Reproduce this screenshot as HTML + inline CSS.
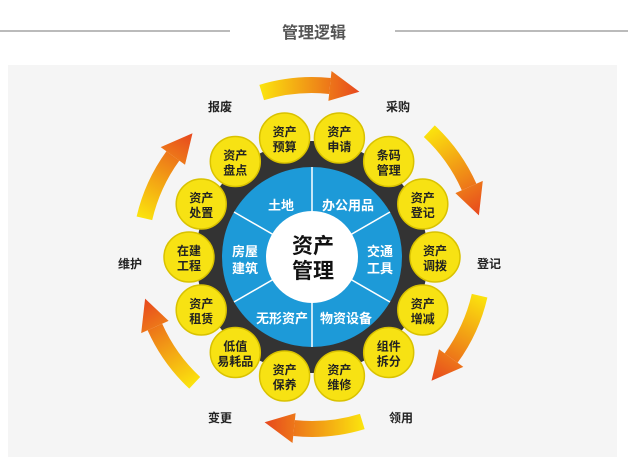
<!DOCTYPE html>
<html><head><meta charset="utf-8"><style>
body{margin:0;width:628px;height:457px;overflow:hidden;background:#fff;font-family:"Liberation Sans","Noto Sans CJK SC",sans-serif}
</style></head><body>
<svg width="628" height="457" viewBox="0 0 628 457" xmlns="http://www.w3.org/2000/svg" style="position:absolute;left:0;top:0;font-family:'Liberation Sans','Noto Sans CJK SC',sans-serif">
<defs>
<linearGradient id="g0" gradientUnits="userSpaceOnUse" x1="261.7" y1="92.5" x2="359.4" y2="91.7"><stop offset="0" stop-color="#fbe20e"/><stop offset="1" stop-color="#e7471e"/></linearGradient>
<linearGradient id="g1" gradientUnits="userSpaceOnUse" x1="429.3" y1="131.2" x2="478.9" y2="215.4"><stop offset="0" stop-color="#fbe20e"/><stop offset="1" stop-color="#e7471e"/></linearGradient>
<linearGradient id="g2" gradientUnits="userSpaceOnUse" x1="479.6" y1="295.7" x2="431.5" y2="380.7"><stop offset="0" stop-color="#fbe20e"/><stop offset="1" stop-color="#e7471e"/></linearGradient>
<linearGradient id="g3" gradientUnits="userSpaceOnUse" x1="362.3" y1="421.5" x2="264.6" y2="422.3"><stop offset="0" stop-color="#fbe20e"/><stop offset="1" stop-color="#e7471e"/></linearGradient>
<linearGradient id="g4" gradientUnits="userSpaceOnUse" x1="194.7" y1="382.8" x2="145.1" y2="298.6"><stop offset="0" stop-color="#fbe20e"/><stop offset="1" stop-color="#e7471e"/></linearGradient>
<linearGradient id="g5" gradientUnits="userSpaceOnUse" x1="144.4" y1="218.3" x2="192.5" y2="133.3"><stop offset="0" stop-color="#fbe20e"/><stop offset="1" stop-color="#e7471e"/></linearGradient>
</defs>
<line x1="0" y1="31" x2="230" y2="31" stroke="#777" stroke-width="1"/>
<line x1="395" y1="31" x2="628" y2="31" stroke="#777" stroke-width="1"/>
<text x="314" y="38" font-size="16" fill="#555" text-anchor="middle" font-weight="bold">管理逻辑</text>
<rect x="8" y="65" width="609" height="392" fill="#f5f5f5"/>

<g fill="none" stroke-width="16">
<path d="M261.7 92.5 A172 172 0 0 1 330 86" stroke="url(#g0)"/>
<path d="M429.3 131.2 A172 172 0 0 1 469.1 187" stroke="url(#g1)"/>
<path d="M479.6 295.7 A172 172 0 0 1 451.1 358.1" stroke="url(#g2)"/>
<path d="M362.3 421.5 A172 172 0 0 1 294 428.1" stroke="url(#g3)"/>
<path d="M194.7 382.8 A172 172 0 0 1 154.9 327" stroke="url(#g4)"/>
<path d="M144.4 218.3 A172 172 0 0 1 172.9 155.9" stroke="url(#g5)"/>
</g>
<polygon points="328.4,100.9 331.5,71 359.4,91.7" fill="url(#g0)"/>
<polygon points="455.4,193.1 482.8,180.9 478.9,215.4" fill="url(#g1)"/>
<polygon points="439,349.3 463.3,366.9 431.5,380.7" fill="url(#g2)"/>
<polygon points="295.6,413.1 292.5,443 264.6,422.3" fill="url(#g3)"/>
<polygon points="168.6,320.9 141.2,333.1 145.1,298.6" fill="url(#g4)"/>
<polygon points="185,164.7 160.7,147.1 192.5,133.3" fill="url(#g5)"/>

<g font-size="12" font-weight="bold" fill="#222" text-anchor="middle">
<text x="220" y="111">报废</text>
<text x="398" y="111">采购</text>
<text x="489" y="268">登记</text>
<text x="401" y="422">领用</text>
<text x="220" y="422">变更</text>
<text x="130" y="268">维护</text>
</g>

<circle cx="312" cy="257" r="116" fill="#333"/>

<g fill="#f7e213" stroke="#d9c200" stroke-width="1.5">
<circle cx="339.4" cy="138" r="25"/>
<circle cx="388.7" cy="161.5" r="25"/>
<circle cx="422.8" cy="204" r="25"/>
<circle cx="435" cy="257" r="25"/>
<circle cx="422.8" cy="310" r="25"/>
<circle cx="388.7" cy="352.5" r="25"/>
<circle cx="339.4" cy="376" r="25"/>
<circle cx="284.6" cy="376" r="25"/>
<circle cx="235.3" cy="352.5" r="25"/>
<circle cx="201.2" cy="310" r="25"/>
<circle cx="189" cy="257" r="25"/>
<circle cx="201.2" cy="204" r="25"/>
<circle cx="235.3" cy="161.5" r="25"/>
<circle cx="284.6" cy="138" r="25"/>
</g>
<g font-size="12" font-weight="bold" fill="#222" text-anchor="middle">
<text x="339.4" y="136">资产</text><text x="339.4" y="151">申请</text>
<text x="388.7" y="159.5">条码</text><text x="388.7" y="174.5">管理</text>
<text x="422.8" y="202">资产</text><text x="422.8" y="217">登记</text>
<text x="435" y="255">资产</text><text x="435" y="270">调拨</text>
<text x="422.8" y="308">资产</text><text x="422.8" y="323">增减</text>
<text x="388.7" y="350.5">组件</text><text x="388.7" y="365.5">拆分</text>
<text x="339.4" y="374">资产</text><text x="339.4" y="389">维修</text>
<text x="284.6" y="374">资产</text><text x="284.6" y="389">保养</text>
<text x="235.3" y="350.5">低值</text><text x="235.3" y="365.5">易耗品</text>
<text x="201.2" y="308">资产</text><text x="201.2" y="323">租赁</text>
<text x="189" y="255">在建</text><text x="189" y="270">工程</text>
<text x="201.2" y="202">资产</text><text x="201.2" y="217">处置</text>
<text x="235.3" y="159.5">资产</text><text x="235.3" y="174.5">盘点</text>
<text x="284.6" y="136">资产</text><text x="284.6" y="151">预算</text>
</g>

<circle cx="312" cy="257" r="90" fill="#1d9ad8"/>
<g stroke="#fff" stroke-width="1.5">
<line x1="312" y1="167" x2="312" y2="347"/>
<line x1="234" y1="212" x2="390" y2="302"/>
<line x1="234" y1="302" x2="390" y2="212"/>
</g>
<circle cx="312" cy="257" r="46" fill="#fff"/>
<g font-size="13" font-weight="bold" fill="#fff" text-anchor="middle">
<text x="281" y="210">土地</text>
<text x="348" y="210">办公用品</text>
<text x="380" y="256">交通</text><text x="380" y="273">工具</text>
<text x="245" y="256">房屋</text><text x="245" y="273">建筑</text>
<text x="282" y="323">无形资产</text>
<text x="346" y="323">物资设备</text>
</g>
<g font-size="21" font-weight="bold" fill="#111" text-anchor="middle">
<text x="313" y="253">资产</text>
<text x="313" y="278">管理</text>
</g>
</svg>
</body></html>
